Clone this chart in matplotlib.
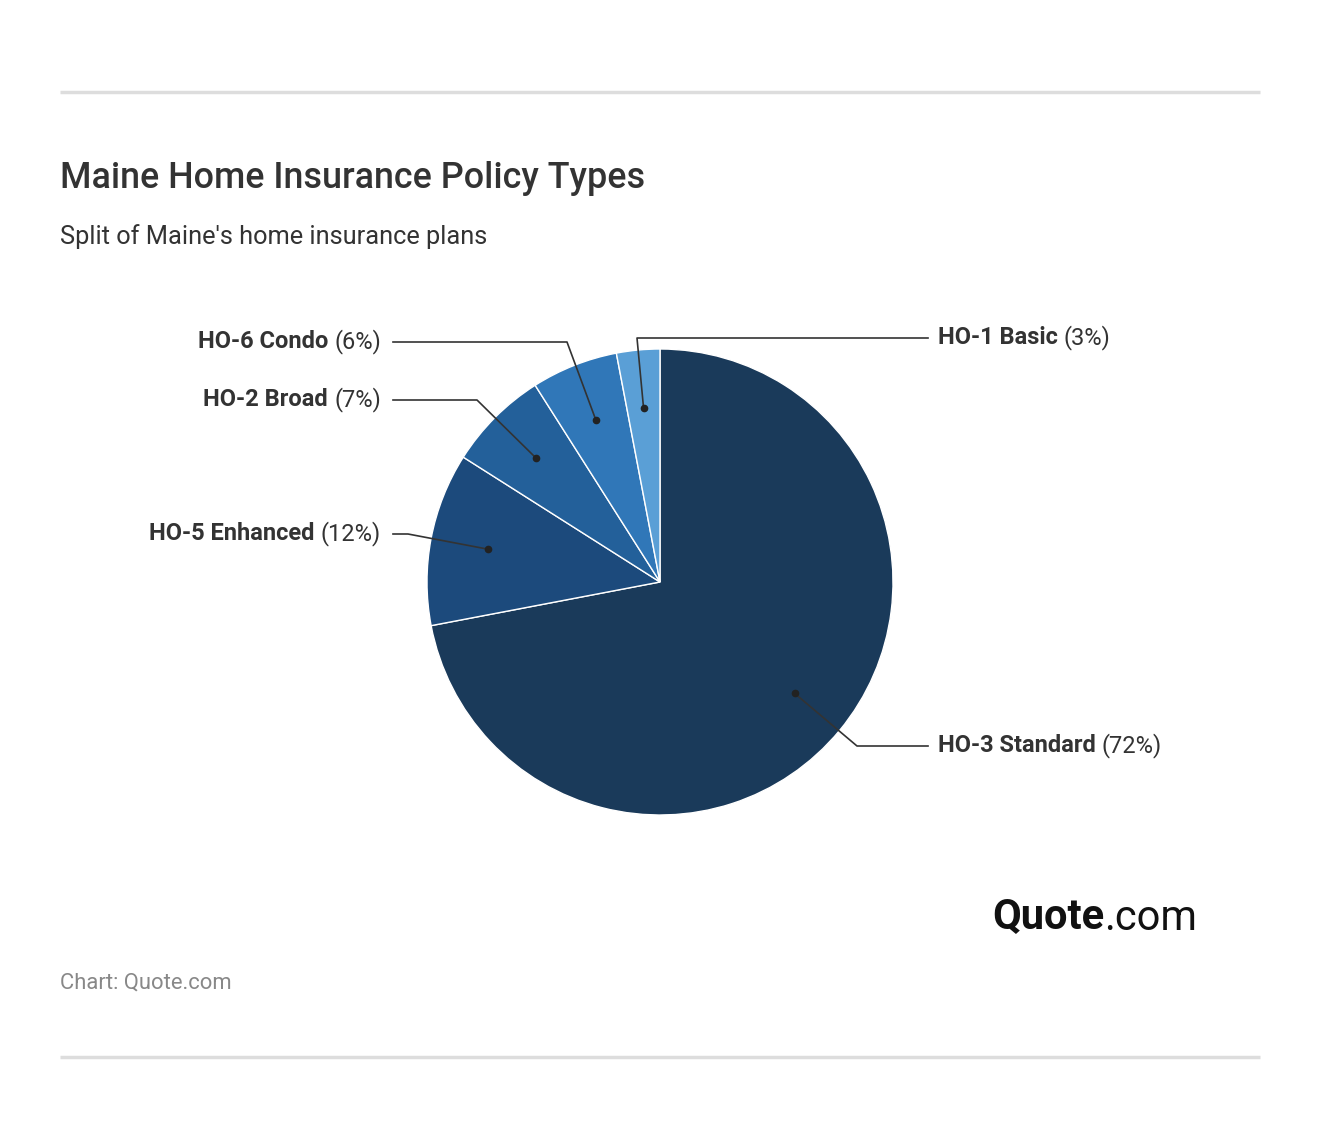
import matplotlib
matplotlib.use("Agg")
import matplotlib.pyplot as plt
import numpy as np

labels = ["HO-3 Standard", "HO-5 Enhanced", "HO-2 Broad", "HO-6 Condo", "HO-1 Basic"]
values = [72, 12, 7, 6, 3]
colors = ["#1a3a5a", "#1c4a7c", "#23609a", "#3077b8", "#5a9fd6"]

W, H = 1320, 1134
fig = plt.figure(figsize=(W/100, H/100), dpi=100)
ax = fig.add_axes([0, 0, 1, 1])
ax.set_xlim(0, W); ax.set_ylim(0, H); ax.axis("off")
Y = lambda y: H - y
plt.rcParams['font.family'] = ['Roboto', 'DejaVu Sans']

cx, cy, R = 660, 582, 233
wedges, _ = ax.pie(values, colors=colors, startangle=90, counterclock=False,
                   center=(cx, Y(cy)), radius=R,
                   wedgeprops=dict(edgecolor="white", linewidth=1))
ax.set_aspect("equal")
ax.set_xlim(0, W); ax.set_ylim(0, H)

elbows = [(857, 746, 928, "r"), (408, 534, 393, "l"), (477, 400, 393, "l"),
          (567, 342, 393, "l"), (637, 338, 928, "r")]
renderer = fig.canvas.get_renderer()
inv = ax.transData.inverted()
for w, lab, v, (ex, ey, xe, side) in zip(wedges, labels, values, elbows):
    th = np.deg2rad((w.theta1 + w.theta2) / 2)
    dx, dy = cx + 0.75*R*np.cos(th), Y(cy) + 0.75*R*np.sin(th)
    ax.plot([dx, ex, xe], [dy, Y(ey), Y(ey)], color="#333333", lw=1.2)
    ax.plot(dx, dy, "o", color="#222222", ms=4.5)
    fs = 17
    if side == "r":
        t = ax.text(xe + 10, Y(ey), lab, fontsize=fs, weight="bold", color="#333333", va="center", ha="left")
        bb = t.get_window_extent(renderer)
        x2 = inv.transform((bb.x1, 0))[0]
        ax.text(x2 + 6, Y(ey), f"({v}%)", fontsize=fs, color="#333333", va="center", ha="left")
    else:
        t = ax.text(xe - 12, Y(ey), f"({v}%)", fontsize=fs, color="#333333", va="center", ha="right")
        bb = t.get_window_extent(renderer)
        x1 = inv.transform((bb.x0, 0))[0]
        ax.text(x1 - 6, Y(ey), lab, fontsize=fs, weight="bold", color="#333333", va="center", ha="right")

ax.plot([60, 1260], [Y(92), Y(92)], color="#dddddd", lw=2.5, solid_capstyle="butt")
ax.plot([60, 1260], [Y(1057), Y(1057)], color="#dddddd", lw=2.5, solid_capstyle="butt")
ax.text(60, Y(178), "Maine Home Insurance Policy Types", fontsize=25.8, weight="medium", color="#333333", va="center")
ax.text(60, Y(237), "Split of Maine's home insurance plans", fontsize=18.3, color="#333333", va="center")
ax.text(60, Y(983), "Chart: Quote.com", fontsize=15.8, color="#888888", va="center")
t = ax.text(992, Y(918), "Quote", fontsize=30, weight="bold", color="#111111", va="center")
bb = t.get_window_extent(renderer)
ax.text(inv.transform((bb.x1, 0))[0], Y(918), ".com", fontsize=30, color="#111111", va="center")

fig.savefig("out.png", dpi=100)
